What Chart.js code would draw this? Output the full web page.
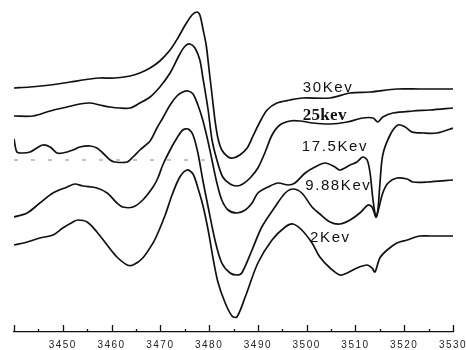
<!DOCTYPE html>
<html>
<head>
<meta charset="utf-8">
<script src="https://cdn.jsdelivr.net/npm/chart.js@4.4.1/dist/chart.umd.min.js"></script>
<style>
  html, body { margin: 0; padding: 0; background: #fff; }
  #wrap { width: 466px; height: 350px; }
</style>
</head>
<body>
<div id="wrap"><canvas id="epr-chart"></canvas></div>
<script>
// magnetic field (G) vs. signal
const kev30 = [[3440,244],[3443.3,245],[3447.4,247],[3451.5,250],[3455.6,253],[3457.6,254],[3460.7,254],[3463.8,256],[3465.8,259],[3467.9,264],[3469.9,271],[3472.0,282],[3473.6,294],[3475.1,307],[3476.5,317],[3477.5,320],[3478.1,317],[3478.7,304],[3479.4,287],[3480.0,262],[3480.6,237],[3481.2,212],[3481.8,194],[3482.6,182],[3483.9,175],[3484.9,174],[3486.3,177],[3487.8,184],[3489.0,196],[3490.4,210],[3491.9,222],[3493.9,229],[3496.6,232],[3499.2,234],[3504.8,234],[3508.9,239],[3513.0,240],[3518.5,243],[3523.2,243],[3530,243]];

const kev25 = [[3440,216],[3443.9,216],[3447.4,221],[3450.9,225],[3453.5,228],[3455.6,229],[3457.6,227],[3459.7,225],[3461.7,224],[3463.8,224],[3465.8,229],[3467.9,235],[3469.9,245],[3472.0,259],[3474.0,278],[3475.1,286],[3476.1,288],[3477.1,284],[3478.1,272],[3478.7,255],[3479.8,222],[3480.6,192],[3481.6,172],[3482.8,155],[3484.3,148],[3485.7,146],[3486.9,148],[3488.4,154],[3490.0,164],[3491.5,180],[3492.9,197],[3494.5,207],[3496.6,211],[3498.6,211],[3501.3,209],[3504.8,208],[3508.3,210],[3511.5,214],[3513.6,214],[3514.6,210],[3515.6,215],[3517.7,219],[3521.8,221],[3525.3,222],[3530,224]];

const kev17 = [[3440,193],[3440.6,180],[3441.8,179],[3443.3,180],[3444.7,184],[3445.9,187],[3447.4,185],[3448.8,179],[3450.0,179],[3452.1,182],[3453.5,185],[3455.6,186],[3457.0,184],[3458.2,179],[3459.7,172],[3460.7,170],[3463.2,170],[3464.4,175],[3465.8,182],[3467.9,191],[3469.3,204],[3470.5,214],[3472.0,227],[3473.4,236],[3474.6,240],[3475.7,241],[3476.7,238],[3477.7,227],[3478.7,212],[3479.8,190],[3480.8,167],[3481.6,149],[3482.6,132],[3483.9,122],[3485.7,119],[3487.4,122],[3488.8,129],[3490.0,139],[3492.1,145],[3494.1,149],[3496.2,147],[3497.6,149],[3499.7,159],[3501.7,165],[3503.8,169],[3505.8,165],[3506.8,162],[3508.9,167],[3510.3,170],[3511.5,175],[3512.4,172],[3513.0,159],[3513.6,132],[3514.2,115],[3514.6,122],[3515.0,147],[3515.6,177],[3517.1,197],[3518.7,207],[3520.2,205],[3521.6,200],[3523.8,199],[3526.7,199],[3530,204]];

const kev988 = [[3440,115],[3442.7,119],[3445.3,129],[3448.0,139],[3450.9,145],[3452.5,148],[3454.1,146],[3457.0,144],[3459.1,139],[3461.1,129],[3462.3,125],[3464.4,125],[3466.4,132],[3468.5,145],[3469.5,154],[3470.5,167],[3472.0,182],[3473.4,194],[3474.6,202],[3475.7,203],[3476.7,197],[3477.7,179],[3478.7,152],[3479.8,125],[3481.2,92],[3482.6,69],[3484.3,59],[3485.7,57],[3486.7,59],[3488.8,82],[3490.8,105],[3493.5,125],[3495.6,139],[3497.2,143],[3499.0,139],[3501.1,125],[3502.7,118],[3504.8,110],[3506.8,108],[3508.9,112],[3510.9,119],[3512.6,127],[3513.4,125],[3514.2,115],[3514.6,120],[3515.6,139],[3516.7,149],[3518.5,154],[3520.6,153],[3521.8,150],[3524.7,150],[3530,152]];

const kev2 = [[3440,87],[3442.7,90],[3445.3,94],[3448.0,97],[3450.0,104],[3452.1,110],[3453.1,112],[3455.0,110],[3457.0,100],[3459.1,87],[3461.1,75],[3463.2,67],[3464.4,67],[3466.4,74],[3468.5,89],[3469.5,99],[3471.0,117],[3472.4,137],[3474.0,155],[3475.5,162],[3476.7,158],[3477.7,144],[3478.7,127],[3479.8,102],[3480.8,74],[3481.8,50],[3483.3,29],[3484.7,16],[3485.7,15],[3487.4,35],[3490.0,69],[3492.9,92],[3495.6,105],[3497.2,108],[3499.0,102],[3501.1,89],[3502.7,75],[3504.8,64],[3506.8,57],[3508.3,59],[3510.3,64],[3512.4,67],[3513.4,64],[3514.0,60],[3515.0,74],[3516.5,82],[3518.5,89],[3520.6,92],[3523.2,96],[3525.3,96],[3530,96]];

// faint dashed trace crossing the 17.5 keV curve
const guideLine = [[3440,172],[3481.5,172]];

const curveNames = ["30Kev", "25kev", "17.5Kev", "9.88Kev", "2Kev"];
const labelField = [3499.2, 3499.2, 3499.0, 3499.7, 3500.7];
const labelLevel = [240, 212, 181, 142, 90];

const fieldMin = 3440;
const fieldMax = 3530;
const tickStep = 5;

function toPoints(pairs) {
    return pairs.map(p => ({ x: p[0], y: p[1] }));
}

const curveStyle = {
    borderColor: "#111",
    borderWidth: 1.7,
    pointRadius: 0,
    fill: false,
    tension: 0.3
};

const curveLabels = {
    id: "curveLabels",
    afterDatasetsDraw(chart) {
        const ctx = chart.ctx;
        const xs = chart.scales.x;
        const ys = chart.scales.y;
        ctx.save();
        ctx.fillStyle = "#111";
        ctx.textBaseline = "alphabetic";
        curveNames.forEach((name, i) => {
            if (name === "25kev") {
                ctx.font = "bold 17px 'Liberation Serif'";
                ctx.letterSpacing = "0.3px";
            } else {
                ctx.font = "15px 'Liberation Sans'";
                ctx.letterSpacing = "1.6px";
            }
            ctx.fillText(name, xs.getPixelForValue(labelField[i]), ys.getPixelForValue(labelLevel[i]));
        });
        ctx.restore();
    }
};

// ticks point up from the axis line, long every 10 G and short in between
const axisTicks = {
    id: "axisTicks",
    beforeDraw(chart) {
        chart.ctx.letterSpacing = "1.5px";
    },
    beforeDatasetsDraw(chart) {
        chart.ctx.letterSpacing = "0px";
    },
    afterDraw(chart) {
        const ctx = chart.ctx;
        const xs = chart.scales.x;
        const base = chart.chartArea.bottom;
        ctx.save();
        ctx.strokeStyle = "#111";
        ctx.lineWidth = 1.3;
        xs.ticks.forEach(t => {
            const px = Math.round(xs.getPixelForValue(t.value)) + 0.5;
            const len = t.value % 10 === 0 ? 7 : 3;
            ctx.beginPath();
            ctx.moveTo(px, base);
            ctx.lineTo(px, base - len);
            ctx.stroke();
        });
        ctx.restore();
    }
};

new Chart(document.getElementById("epr-chart"), {
    type: "line",
    data: {
        datasets: [
            { label: curveNames[0], data: toPoints(kev30), ...curveStyle },
            { label: curveNames[1], data: toPoints(kev25), ...curveStyle },
            { label: curveNames[2], data: toPoints(kev17), ...curveStyle },
            { label: curveNames[3], data: toPoints(kev988), ...curveStyle },
            { label: curveNames[4], data: toPoints(kev2), ...curveStyle },
            {
                label: "trace",
                data: toPoints(guideLine),
                borderColor: "#888",
                borderWidth: 1,
                borderDash: [4, 13],
                pointRadius: 0,
                fill: false
            }
        ]
    },
    options: {
        responsive: true,
        maintainAspectRatio: false,
        animation: false,
        layout: { padding: { left: 14, right: 13, top: 0, bottom: 0 } },
        plugins: {
            legend: { display: false },
            tooltip: { enabled: false }
        },
        scales: {
            x: {
                type: "linear",
                min: fieldMin,
                max: fieldMax,
                afterFit(scale) {
                    scale.paddingLeft = 0;
                    scale.paddingRight = 0;
                    scale.height = 18;
                },
                grid: { drawOnChartArea: false, drawTicks: false },
                border: { display: true, color: "#111", width: 1.3 },
                ticks: {
                    stepSize: tickStep,
                    autoSkip: false,
                    maxRotation: 0,
                    padding: 7,
                    color: "#222",
                    font: { family: "'Liberation Sans'", size: 10 },
                    callback: v => (v % 10 === 0 && v !== fieldMin ? String(v) : "")
                }
            },
            y: {
                display: false,
                min: 0,
                max: 332
            }
        }
    },
    plugins: [curveLabels, axisTicks]
});
</script>
</body>
</html>
